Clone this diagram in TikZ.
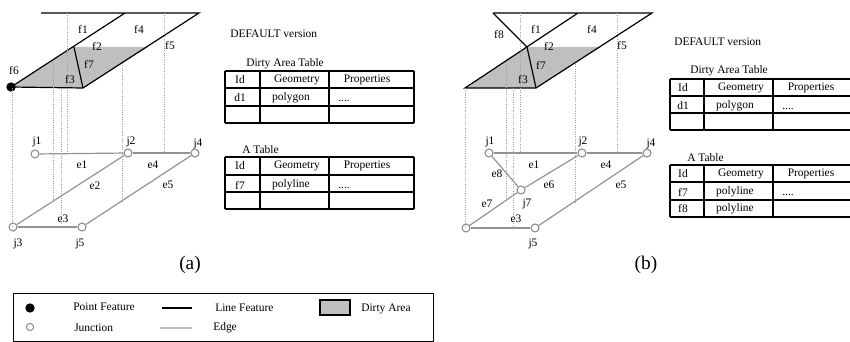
\documentclass[tikz,border=0pt]{standalone}
\usepackage{fontspec}
\setmainfont{Liberation Serif}
\usepackage{xcolor}
\usetikzlibrary{positioning}

\begin{document}
\begin{tikzpicture}[
    x=0.75pt, y=-0.75pt,
    lab/.style={font=\fontsize{8.6pt}{10pt}\selectfont, inner sep=0pt},
    caplab/.style={font=\fontsize{14.5pt}{16pt}\selectfont, inner sep=0pt},
    feat/.style={black, line width=0.9pt},
    edgeline/.style={gray!85, line width=0.9pt},
    drop/.style={gray!75, densely dotted, line width=0.75pt},
    junc/.style={circle, draw=gray!90, fill=white, line width=0.8pt, minimum size=6pt, inner sep=0pt},
    ptfeat/.style={circle, fill=black, minimum size=7pt, inner sep=0pt},
    tabline/.style={black, line width=0.8pt}
]
\useasboundingbox (0,0) rectangle (850,342);

% Case (a): features
\coordinate (a1) at (41,13);
\coordinate (a2) at (125,13);
\coordinate (a3) at (199,13);
\coordinate (a4) at (74,47);
\coordinate (a5) at (148,47);
\coordinate (a7) at (83,88);
\fill[gray!50] (11,87) -- (a4) -- (a5) -- (a7) -- cycle;
\node[ptfeat] (f6pt) at (11,87) {};
\draw[feat] (a1) -- (a3) -- (a7) -- (f6pt.center) -- (a2);
\draw[feat] (a4) -- (a7);

% Case (a): network
\node[junc] (j1a) at (35,154) {};
\node[junc] (j2a) at (128,153) {};
\node[junc] (j4a) at (195,153) {};
\node[junc] (j3a) at (13,227) {};
\node[junc] (j5a) at (82,227) {};
\draw[edgeline] (j1a) -- (j2a);
\draw[edgeline] (j2a) -- (j4a);
\draw[edgeline] (j2a) -- (j3a);
\draw[edgeline] (j4a) -- (j5a);
\draw[edgeline] (j3a) -- (j5a);

% Case (a): drop lines
\draw[drop] (12,88) -- (12,227);
\draw[drop] (53,64) -- (53,200);
\draw[drop] (61,88) -- (61,227);
\draw[drop] (67,13) -- (67,153);
\draw[drop] (122,63) -- (122,202);
\draw[drop] (164,13) -- (164,153);

% Case (a): labels
\node[lab] (f1a) at (83,29) {f1};
\node[lab] (f4a) at (139,29) {f4};
\node[lab] (f2a) at (97,46) {f2};
\node[lab] (f5a) at (170,46) {f5};
\node[lab] (f7a) at (89,64) {f7};
\node[lab] (f3a) at (70,80) {f3};
\node[lab] (f6a) at (14,71) {f6};
\node[lab] (j1l) at (37,142) {j1};
\node[lab] (j2l) at (131,142) {j2};
\node[lab] (j4l) at (198,144) {j4};
\node[lab] (j3l) at (18,244) {j3};
\node[lab] (j5l) at (80,244) {j5};
\node[lab] (e1a) at (82,165) {e1};
\node[lab] (e2a) at (95,186) {e2};
\node[lab] (e4a) at (153,165) {e4};
\node[lab] (e5a) at (168,185) {e5};
\node[lab] (e3a) at (63,219) {e3};
\node[caplab] (capa) at (190,265) {(a)};

% Case (a): tables
\node[lab, anchor=west] (defa) at (230,34) {DEFAULT version};
\node[lab, anchor=west] (dirtya) at (246,64) {Dirty Area Table};
\node[lab, anchor=west] (ataba) at (242,150) {A Table};
\foreach \yy in {71,88,106,123,157,175,192,209}
    \draw[tabline] (225,\yy) -- (414,\yy);
\foreach \xx in {225,260,329,414} {
    \draw[tabline] (\xx,71) -- (\xx,123);
    \draw[tabline] (\xx,157) -- (\xx,209);
}
\foreach \yy/\idtxt/\geotxt in {80/Id/Geometry,166/Id/Geometry} {
    \node[lab] at (240,\yy) {\idtxt};
    \node[lab] at (297,\yy) {\geotxt};
    \node[lab] at (367,\yy) {Properties};
}
\node[lab] (d1a) at (240,98) {d1};
\node[lab] (polya) at (291,98) {polygon};
\node[lab] (dotsa) at (344,101) {....};
\node[lab] (f7rowa) at (240,185) {f7};
\node[lab] (linea) at (291,185) {polyline};
\node[lab] (dotsb) at (344,188) {....};

% Case (b): features
\coordinate (b1) at (493,13);
\coordinate (b2) at (578,13);
\coordinate (b3) at (652,13);
\coordinate (b4) at (527,47);
\coordinate (b5) at (601,47);
\coordinate (b6) at (465,88);
\coordinate (b7) at (536,88);
\fill[gray!50] (b6) -- (b4) -- (b5) -- (b7) -- cycle;
\draw[feat] (b1) -- (b3) -- (b7) -- (b6) -- (b2);
\draw[feat] (b1) -- (b4) -- (b7);

% Case (b): network
\node[junc] (j1b) at (489,153) {};
\node[junc] (j2b) at (582,153) {};
\node[junc] (j4b) at (647,153) {};
\node[junc] (j3b) at (466,228) {};
\node[junc] (j5b) at (535,228) {};
\node[junc] (j7b) at (521,190) {};
\draw[edgeline] (j1b) -- (j2b);
\draw[edgeline] (j2b) -- (j4b);
\draw[edgeline] (j2b) -- (j7b);
\draw[edgeline] (j7b) -- (j3b);
\draw[edgeline] (j1b) -- (j7b);
\draw[edgeline] (j4b) -- (j5b);
\draw[edgeline] (j3b) -- (j5b);

% Case (b): drop lines
\draw[drop] (465,88) -- (465,228);
\draw[drop] (506,64) -- (506,200);
\draw[drop] (513.5,88) -- (513.5,228);
\draw[drop] (520,13) -- (520,153);
\draw[drop] (575,64) -- (575,202);
\draw[drop] (617.5,13) -- (617.5,153);

% Case (b): labels
\node[lab] (f8b) at (499,35) {f8};
\node[lab] (f1b) at (536,29) {f1};
\node[lab] (f4b) at (592,29) {f4};
\node[lab] (f2b) at (549,46) {f2};
\node[lab] (f5b) at (622,46) {f5};
\node[lab] (f7b) at (541,65) {f7};
\node[lab] (f3b) at (523,80) {f3};
\node[lab] (j1m) at (490,142) {j1};
\node[lab] (j2m) at (583,142) {j2};
\node[lab] (j4m) at (651,144) {j4};
\node[lab] (j7m) at (527,204) {j7};
\node[lab] (j5m) at (533,244) {j5};
\node[lab] (e1b) at (534,165) {e1};
\node[lab] (e4b) at (606,165) {e4};
\node[lab] (e6b) at (549,185) {e6};
\node[lab] (e5b) at (621,185) {e5};
\node[lab] (e8b) at (497,174) {e8};
\node[lab] (e7b) at (487,204) {e7};
\node[lab] (e3b) at (516,219) {e3};
\node[caplab] (capb) at (646,265) {(b)};

% Case (b): tables
\node[lab, anchor=west] (defb) at (674,42) {DEFAULT version};
\node[lab, anchor=west] (dirtyb) at (690,71) {Dirty Area Table};
\node[lab, anchor=west] (atabb) at (687,158) {A Table};
\foreach \yy in {79,96,113,130,165,182,200,217}
    \draw[tabline] (670,\yy) -- (850,\yy);
\foreach \xx in {670,704,773} {
    \draw[tabline] (\xx,79) -- (\xx,130);
    \draw[tabline] (\xx,165) -- (\xx,217);
}
\foreach \yy in {88,174} {
    \node[lab] at (683,\yy) {Id};
    \node[lab] at (741,\yy) {Geometry};
    \node[lab] at (811,\yy) {Properties};
}
\node[lab] (d1b) at (683,106) {d1};
\node[lab] (polyb) at (735,106) {polygon};
\node[lab] (dotsc) at (788,109) {....};
\node[lab] (f7rowb) at (683,192) {f7};
\node[lab] (lineb) at (735,192) {polyline};
\node[lab] (dotsd) at (788,195) {....};
\node[lab] (f8rowb) at (683,209) {f8};
\node[lab] (linec) at (735,209) {polyline};

% Legend
\draw[line width=0.7pt] (13,293) rectangle (433,341);
\node[ptfeat] (legpt) at (30,308) {};
\node[junc, minimum size=5.4pt] (legj) at (30,327) {};
\coordinate (legl1) at (162,308);
\coordinate (legl2) at (192,308);
\coordinate (lege1) at (160,328);
\coordinate (lege2) at (192,328);
\draw[feat] (legl1) -- (legl2);
\draw[gray!50, line width=0.9pt] (lege1) -- (lege2);
\draw[fill=gray!50, line width=0.8pt] (320,300) rectangle (350,315);
\node[lab, anchor=west] (legpttxt) at (73,307) {Point Feature};
\node[lab, anchor=west] (leglntxt) at (215,308) {Line Feature};
\node[lab, anchor=west] (legdatxt) at (361,309) {Dirty Area};
\node[lab, anchor=west] (legjtxt) at (74,328) {Junction};
\node[lab, anchor=west] (legetxt) at (213,328) {Edge};
\end{tikzpicture}
\end{document}
